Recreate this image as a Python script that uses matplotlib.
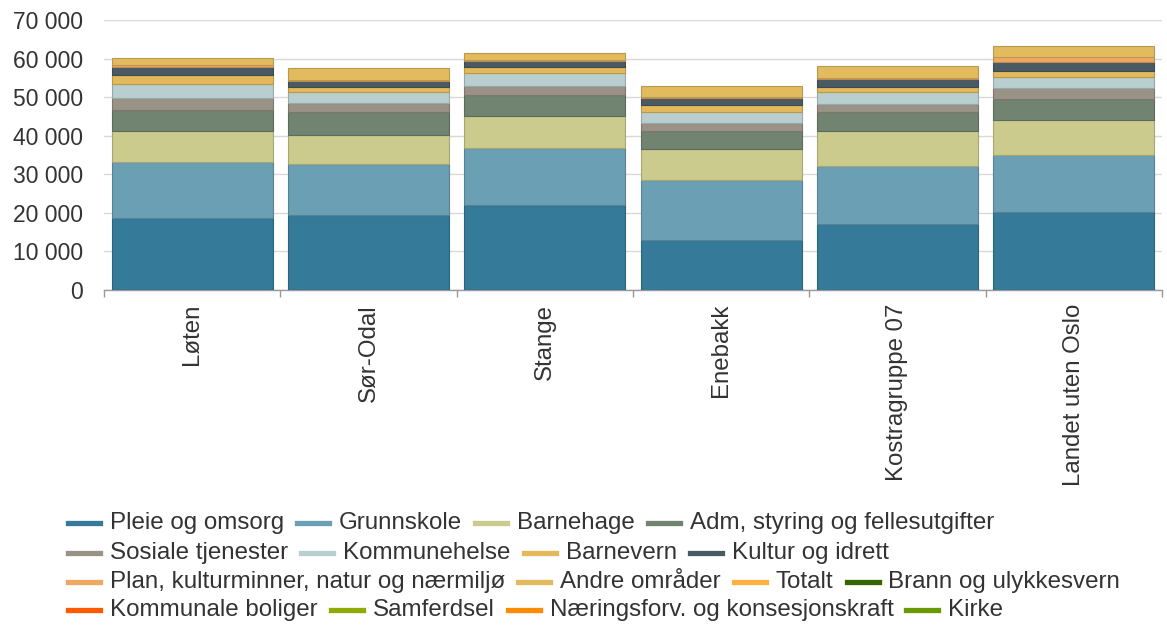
import numpy as np
import matplotlib.pyplot as plt
from matplotlib.lines import Line2D
from matplotlib.ticker import FuncFormatter, FixedLocator
from matplotlib.colors import to_rgb

plt.rcParams['font.family'] = ['Liberation Sans', 'DejaVu Sans']

regions = ["Løten", "Sør-Odal", "Stange", "Enebakk", "Kostragruppe 07", "Landet uten Oslo"]

# values per service area (kr per innbygger), stacked bottom to top
pleie = [18700, 19500, 22000, 13000, 17100, 20200]
grunnskole = [14500, 13200, 14700, 15500, 15000, 14800]
barnehage = [8100, 7500, 8400, 8100, 9100, 9100]
adm = [5400, 6000, 5500, 4700, 5000, 5300]
sosiale = [3000, 2200, 2300, 1900, 2000, 2900]
kommunehelse = [3600, 2900, 3400, 3000, 3100, 3000]
barnevern = [2400, 1400, 1400, 1800, 1400, 1600]
kultur = [2000, 1400, 1600, 1700, 1900, 2300]
plan = [600, 300, 300, 300, 400, 1200]
andre = [1800, 3200, 1900, 3000, 3100, 2900]
totalt = [0, 0, 0, 0, 0, 0]
brann = [0, 0, 0, 0, 0, 0]
boliger = [0, 0, 0, 0, 0, 0]
samferdsel = [0, 0, 0, 0, 0, 0]
naering = [0, 0, 0, 0, 0, 0]
kirke = [0, 0, 0, 0, 0, 0]

series = [
    ("Pleie og omsorg", pleie, "#357a99"),
    ("Grunnskole", grunnskole, "#6b9fb4"),
    ("Barnehage", barnehage, "#cbcb8d"),
    ("Adm, styring og fellesutgifter", adm, "#718371"),
    ("Sosiale tjenester", sosiale, "#9a9187"),
    ("Kommunehelse", kommunehelse, "#b9cecf"),
    ("Barnevern", barnevern, "#e3b95b"),
    ("Kultur og idrett", kultur, "#4a5a62"),
    ("Plan, kulturminner, natur og nærmiljø", plan, "#eea860"),
    ("Andre områder", andre, "#e2bb5e"),
    ("Totalt", totalt, "#ffb23f"),
    ("Brann og ulykkesvern", brann, "#336600"),
    ("Kommunale boliger", boliger, "#ff5a00"),
    ("Samferdsel", samferdsel, "#8faa00"),
    ("Næringsforv. og konsesjonskraft", naering, "#ff8c00"),
    ("Kirke", kirke, "#6b9a00"),
]

legend_rows = [
    ["Pleie og omsorg", "Grunnskole", "Barnehage", "Adm, styring og fellesutgifter"],
    ["Sosiale tjenester", "Kommunehelse", "Barnevern", "Kultur og idrett"],
    ["Plan, kulturminner, natur og nærmiljø", "Andre områder", "Totalt", "Brann og ulykkesvern"],
    ["Kommunale boliger", "Samferdsel", "Næringsforv. og konsesjonskraft", "Kirke"],
]

W, H = 1167, 625
fig = plt.figure(figsize=(W / 100, H / 100), dpi=100)
ax = fig.add_axes([104 / W, 1 - 290 / H, 1058 / W, 270 / H])

x = np.arange(len(regions))
bottom = np.zeros(len(regions))
for name, vals, col in series:
    vals = np.array(vals, dtype=float)
    if vals.sum() == 0:
        continue
    edge = tuple(c * 0.82 for c in to_rgb(col))
    ax.bar(x, vals, width=0.913, bottom=bottom, color=col, edgecolor=edge,
           linewidth=0.8, zorder=3)
    bottom += vals

ax.set_xlim(-0.5, len(regions) - 0.5)
ax.set_ylim(0, 70000)
ax.set_yticks(np.arange(0, 70001, 10000))
ax.yaxis.set_major_formatter(FuncFormatter(lambda v, p: f"{int(v):,}".replace(",", " ")))
ax.grid(axis='y', color='#d9d9d9', linewidth=1, zorder=0)
ax.tick_params(axis='y', length=0, pad=15, labelsize=16.5, labelcolor='#333333')

ax.set_xticks(x)
ax.set_xticklabels(regions, rotation=90, va='top', ha='center')
ax.xaxis.set_minor_locator(FixedLocator(np.arange(-0.5, len(regions), 1)))
ax.tick_params(axis='x', which='major', length=0, pad=10, labelsize=17.3, labelcolor='#333333')
ax.tick_params(axis='x', which='minor', length=5, width=1, color='#999999')

for s in ['top', 'right', 'left']:
    ax.spines[s].set_visible(False)
ax.spines['bottom'].set_color('#999999')
ax.spines['bottom'].set_linewidth(1)

# legend laid out as flowing rows
colors = {name: col for name, _, col in series}
fig.canvas.draw()
renderer = fig.canvas.get_renderer()
row_y = [523, 553, 582, 610]
for row, yp in zip(legend_rows, row_y):
    xp = 68
    yf = 1 - yp / H
    for name in row:
        fig.add_artist(Line2D([xp / W, (xp + 32) / W], [yf, yf], color=colors[name],
                              linewidth=3.8, transform=fig.transFigure))
        t = fig.text((xp + 42) / W, yf, name, fontsize=17.4, color='#333333',
                     va='center', ha='left')
        w = t.get_window_extent(renderer).width
        xp += 42 + w + 13

fig.savefig("out.png", dpi=100)
